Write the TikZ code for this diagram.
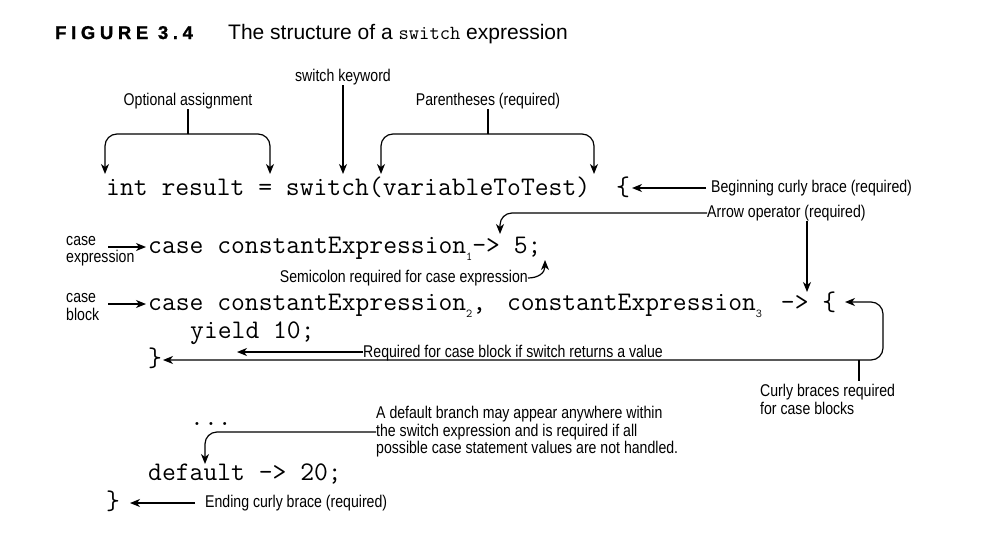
\documentclass[tikz,border=0pt]{standalone}
\usepackage{fontspec}
\setmainfont{Liberation Sans}
\newfontfamily\lblfont[FakeStretch=0.83]{Liberation Sans}
\newfontfamily\titlefont[LetterSpace=25,BoldFeatures={FakeBold=1.2}]{Liberation Sans}
\usetikzlibrary{arrows.meta}
\newcommand\csub[1]{\raisebox{-7pt}{\fontsize{12}{12}\selectfont #1}}
\tikzset{
  code/.style={anchor=base west,inner sep=0pt,font=\ttfamily\fontsize{26.85}{30}\selectfont},
  lbl/.style={inner sep=0pt,font=\lblfont\fontsize{17}{17.5}\selectfont},
  arr/.style={line width=1.2pt,-{Stealth[length=10pt,width=8pt,inset=3pt]}},
  arrb/.style={line width=1.2pt,{Stealth[length=10pt,width=8pt,inset=3pt]}-{Stealth[length=10pt,width=8pt,inset=3pt]}},
  ln/.style={line width=1.2pt}
}
\begin{document}
\begin{tikzpicture}[x=1pt,y=-1pt]
\useasboundingbox[fill=white] (0,0) rectangle (1000,554);
% title
\node[anchor=base west,inner sep=0pt] (tnum) at (55,39) {\titlefont\bfseries\fontsize{18.5}{20}\selectfont FIGURE 3.4};
\node[anchor=base west,inner sep=0pt] (ttxt) at (228,39) {\fontsize{21}{22}\selectfont The structure of a {\ttfamily\fontsize{20}{20}\selectfont switch} expression};
% code
\node[code] (l1) at (106,195) {int result = switch(variableToTest)};
\node[code] (lb1) at (616,195) {\{};
\node[code] (l2) at (148,253) {case constantExpression\csub{1}-> 5;};
\node[code] (l3) at (148,310) {case constantExpression\csub{2}, \kern7ptconstantExpression\csub{3}\kern5pt{} -> \{};
\node[code] (l4) at (190,338) {yield 10;};
\node[code] (l5) at (148,366) {\}};
\node[code] (l6) at (190,425) {...};
\node[code] (l7) at (148,480) {default -> 20;};
\node[code] (l8) at (106,509) {\}};
% top labels
\node[lbl] (kw) at (343,77) {switch keyword};
\coordinate (kwT) at (343,174);
\draw[arr] (kw.south) -- (kwT);
\node[lbl] (opt) at (188,101) {Optional assignment};
\coordinate (optM) at (188,134);
\coordinate (optL) at (105,174);
\coordinate (optR) at (270,174);
\draw[ln] (opt.south) -- (optM);
\draw[arr,rounded corners=12pt] (optM) -| (optL);
\draw[arr,rounded corners=12pt] (optM) -| (optR);
\node[lbl] (par) at (488,101) {Parentheses (required)};
\coordinate (parM) at (488,134);
\coordinate (parL) at (381,174);
\coordinate (parR) at (594,174);
\draw[ln] (par.south) -- (parM);
\draw[arr,rounded corners=12pt] (parM) -| (parL);
\draw[arr,rounded corners=12pt] (parM) -| (parR);
% right labels
\node[lbl,anchor=west] (beg) at (711,188) {Beginning curly brace (required)};
\coordinate (begT) at (632,188);
\draw[arr] ([xshift=-5pt]beg.west) -- (begT);
\node[lbl,anchor=west] (aop) at (707,213) {Arrow operator (required)};
\coordinate (aopT1) at (500,234);
\coordinate (aopT2) at (807,292);
\draw[arr,rounded corners=12pt] (aop.west) -| (aopT1);
\draw[arr] (aop.south -| aopT2) -- (aopT2);
% case labels
\node[lbl,anchor=west,align=left] (ce) at (66,251) {case\\expression};
\coordinate (ceS) at (108,247);
\coordinate (ceT) at (146,247);
\draw[arr] (ceS) -- (ceT);
\node[lbl,anchor=west,align=left] (cb) at (66,307) {case\\block};
\coordinate (cbS) at (108,304);
\coordinate (cbT) at (146,304);
\draw[arr] (cbS) -- (cbT);
% semicolon
\node[lbl,anchor=east] (semi) at (528,278) {Semicolon required for case expression};
\coordinate (semiT) at (545,260);
\draw[arr] (semi.east) .. controls (538,278) and (545,273) .. (semiT);
% case block braces
\coordinate (rbT) at (163,360);
\coordinate (lbT) at (845,302);
\draw[arrb,rounded corners=12pt] (rbT) -- (883,360) -- (883,302) -- (lbT);
\coordinate (cbrS) at (859,360);
\coordinate (cbrE) at (859,381);
\draw[ln] (cbrS) -- (cbrE);
\node[lbl,anchor=north west,align=left] (cbr) at (760,384) {Curly braces required\\for case blocks};
\node[lbl,anchor=base east] (req) at (663,357) {Required for case block if switch returns a value};
\coordinate (yT) at (237,352);
\draw[arr] (req.west |- yT) -- (yT);
% default
\node[lbl,anchor=west,align=left] (dft) at (376,432) {A default branch may appear anywhere within\\the switch expression and is required if all\\possible case statement values are not handled.};
\coordinate (dftT) at (205,464);
\draw[arr,rounded corners=12pt] (dft.west) -| (dftT);
\node[lbl,anchor=west] (endl) at (205,503) {Ending curly brace (required)};
\coordinate (endT) at (130,503);
\draw[arr] ([xshift=-10pt]endl.west) -- (endT);
\end{tikzpicture}
\end{document}
